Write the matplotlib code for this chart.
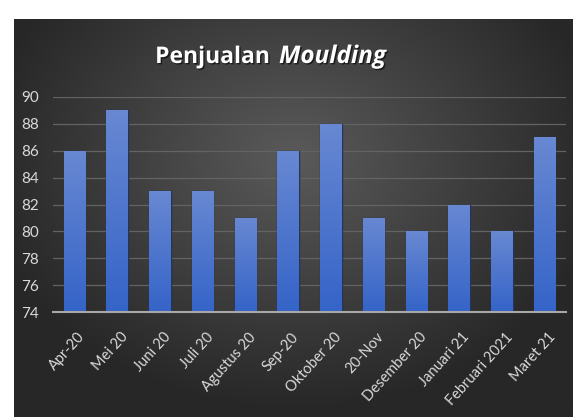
import matplotlib.pyplot as plt
import matplotlib.patheffects as pe
import matplotlib.transforms as mtrans
import numpy as np

months = ["Apr-20", "Mei 20", "Juni 20", "Juli 20", "Agustus 20", "Sep-20",
          "Oktober 20", "20-Nov", "Desember 20", "Januari 21", "Februari 2021", "Maret 21"]
sales = [86, 89, 83, 83, 81, 86, 88, 81, 80, 82, 80, 87]
yticks = [74, 76, 78, 80, 82, 84, 86, 88, 90]

plt.rcParams['font.family'] = ['Lato', 'DejaVu Sans']

fig = plt.figure(figsize=(5.73, 4.17), dpi=100)
fig.patch.set_facecolor("white")

# dark radial background panel
bg = fig.add_axes([14 / 573, 0, 1 - 14 / 573, 398 / 417])
bg.set_axis_off()
yy, xx = np.mgrid[0:1:200j, 0:1:280j]
d = np.sqrt(((xx - 0.5) / 0.75) ** 2 + ((yy - 0.65) / 0.85) ** 2)
d = np.clip(d / 0.75, 0, 1)
c0 = np.array([0x5a, 0x5a, 0x5a]) / 255
c1 = np.array([0x27, 0x27, 0x27]) / 255
img = c0 + (c1 - c0) * d[..., None]
bg.imshow(img, aspect="auto", extent=[0, 1, 0, 1], origin="lower")
bg.set_xlim(0, 1)
bg.set_ylim(0, 1)

ax = fig.add_axes([53 / 573, 1 - 312 / 417, 513 / 573, 215 / 417])
ax.patch.set_alpha(0)
x = np.arange(len(months))
bars = ax.bar(x, sales, width=0.5, color="none", edgecolor="#24345a", linewidth=1.0, zorder=3)

# vertical gradient inside each bar
grad = np.linspace(0, 1, 100)[:, None]
top = np.array([0x68, 0x88, 0xd2]) / 255
bot = np.array([0x35, 0x64, 0xc8]) / 255
gimg = bot + (top - bot) * grad[..., None]
for b in bars:
    im = ax.imshow(gimg, extent=[b.get_x(), b.get_x() + b.get_width(), 74, b.get_height()],
                   origin="lower", aspect="auto", zorder=4)
    im.set_clip_path(b)

ax.set_xlim(-0.5, len(months) - 0.5)
ax.set_ylim(74, 90)
ax.set_yticks(yticks)
ax.yaxis.grid(True, color="#636363", linewidth=0.9, zorder=0)
ax.set_axisbelow(True)
for s in ["top", "right", "left"]:
    ax.spines[s].set_visible(False)
ax.spines["bottom"].set_color("#a8a8a8")
ax.spines["bottom"].set_linewidth(1.5)
ax.spines["bottom"].set_zorder(5)
ax.tick_params(axis="both", length=0, colors="#d9d9d9")
ax.tick_params(axis="y", pad=10, labelsize=11)
ax.tick_params(axis="x", pad=13, labelsize=10.5)
ax.set_xticks(x)
ax.set_xticklabels(months, rotation=48, ha="right", rotation_mode="anchor")
for lab in ax.get_xticklabels():
    lab.set_transform(lab.get_transform() + mtrans.ScaledTranslation(0.03, 0, fig.dpi_scale_trans))

shadow = [pe.withSimplePatchShadow(offset=(1, -1), shadow_rgbFace="black", alpha=0.6)]
fig.text(270 / 573, 1 - 63 / 417, "Penjualan", color="white", fontsize=16.5, fontweight="bold",
         ha="right", va="baseline", path_effects=shadow, family=["Open Sans", "DejaVu Sans"])
fig.text(279 / 573, 1 - 63 / 417, "Moulding", color="white", fontsize=17.5, fontweight="bold",
         style="italic", ha="left", va="baseline", path_effects=shadow, family=["Open Sans", "DejaVu Sans"])

fig.savefig("out.png", dpi=100)
